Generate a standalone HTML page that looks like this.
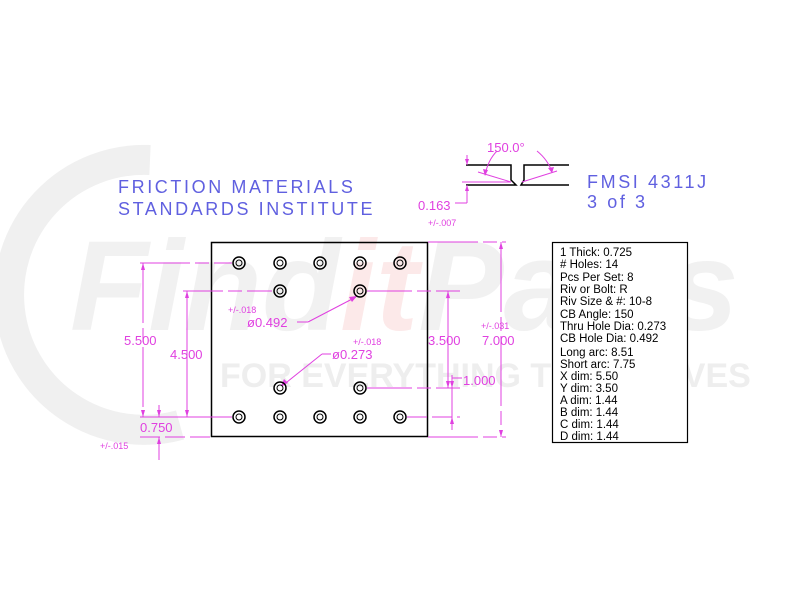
<!DOCTYPE html>
<html><head><meta charset="utf-8"><style>
html,body{margin:0;padding:0;background:#fff;width:800px;height:600px;overflow:hidden}
svg{display:block}
text{font-family:"Liberation Sans",sans-serif}
.m{fill:#e040e0;font-size:13px}
.t{fill:#e040e0;font-size:9px}
.b{fill:#6060e0;font-size:18px;letter-spacing:2.6px}
.k{fill:#000;font-size:11.5px}
</style></head><body>
<svg width="800" height="600" viewBox="0 0 800 600" xmlns="http://www.w3.org/2000/svg">
<g>
<path d="M150,160 A135,135 0 1,0 180,425" fill="none" stroke="#f0f0f0" stroke-width="30"/>
<text x="70" y="330" style="font-family:'Liberation Sans',sans-serif;font-weight:bold;font-style:italic;font-size:128px;fill:#f1f1f1">Find<tspan style="fill:#fce9e9">it</tspan>Parts</text>
<text x="220" y="387" style="font-family:'Liberation Sans',sans-serif;font-weight:bold;font-size:34px;fill:#eeeeee">FOR EVERYTHING THAT MOVES</text>
</g>
<text class="b" x="118" y="193">FRICTION MATERIALS</text>
<text class="b" x="118" y="215">STANDARDS INSTITUTE</text>
<text class="b" x="587" y="188">FMSI 4311J</text>
<text class="b" x="587" y="208">3 of 3</text>
<g fill="none" stroke="#000" stroke-width="1.5">
<polyline points="466,165 511,165 511,180 516,185 466,185"/>
<polyline points="569,165 524,165 524,180 521,185 569,185"/>
</g>
<g stroke="#e040e0" stroke-width="1" fill="none">
<line x1="478" y1="172" x2="511" y2="182"/>
<line x1="522" y1="182" x2="557" y2="171"/>
<path d="M497,151 Q488,160 485,175"/>
<path d="M537,151 Q548,160 552,172"/>
<line x1="462" y1="182" x2="511" y2="182"/>
<line x1="467" y1="155" x2="467" y2="165"/>
<line x1="467" y1="185" x2="467" y2="203"/>
<line x1="455" y1="203" x2="467" y2="203"/>
</g>
<g fill="#e040e0">
<polygon points="485,176 483,169 488,170"/>
<polygon points="552,173 548,168 554,167"/>
<polygon points="467,165 465,159 469,159"/>
<polygon points="467,185 465,191 469,191"/>
</g>
<text class="m" x="487" y="152">150.0°</text>
<text class="m" x="418" y="210">0.163</text>
<text class="t" x="428" y="226">+/-.007</text>
<rect x="211.5" y="242.5" width="216" height="194" fill="none" stroke="#000" stroke-width="1.5"/>
<g stroke="#e040e0" stroke-width="1" fill="none">
<line x1="140" y1="263" x2="232" y2="263" stroke-dasharray="50 5 14 5"/>
<line x1="183" y1="291" x2="272" y2="291" stroke-dasharray="40 5 14 5"/>
<line x1="140" y1="417" x2="232" y2="417"/>
<line x1="140" y1="437" x2="211" y2="437" stroke-dasharray="20 5"/>
<line x1="143" y1="263" x2="143" y2="417" stroke-dasharray="60 5 14 5"/>
<line x1="159" y1="405" x2="159" y2="417"/>
<line x1="159" y1="437" x2="159" y2="460"/>
<line x1="187" y1="291" x2="187" y2="417"/>
<line x1="428" y1="242" x2="506" y2="242" stroke-dasharray="50 5 14 5"/>
<line x1="428" y1="437" x2="506" y2="437" stroke-dasharray="50 5 14 5"/>
<line x1="501" y1="242" x2="501" y2="437" stroke-dasharray="70 5 14 5"/>
<line x1="367" y1="291" x2="460" y2="291" stroke-dasharray="45 5 14 5"/>
<line x1="367" y1="388" x2="460" y2="388" stroke-dasharray="45 5 14 5"/>
<line x1="407" y1="417" x2="460" y2="417" stroke-dasharray="20 5"/>
<line x1="448" y1="291" x2="448" y2="388"/>
<line x1="452" y1="375" x2="452" y2="430"/>
<line x1="452" y1="378" x2="462" y2="378"/>
<line x1="297" y1="322" x2="308" y2="322"/>
<line x1="308" y1="322" x2="356" y2="297"/>
<line x1="331" y1="354" x2="322" y2="354"/>
<line x1="322" y1="354" x2="282" y2="386"/>
</g>
<g fill="#e040e0">
<polygon points="143,263 141,270 145,270"/>
<polygon points="143,417 141,410 145,410"/>
<polygon points="159,417 157,410 161,410"/>
<polygon points="159,437 157,444 161,444"/>
<polygon points="187,291 185,298 189,298"/>
<polygon points="187,417 185,410 189,410"/>
<polygon points="501,242 499,249 503,249"/>
<polygon points="501,437 499,430 503,430"/>
<polygon points="448,291 446,298 450,298"/>
<polygon points="448,388 446,381 450,381"/>
<polygon points="452,388 450,381 454,381"/>
<polygon points="452,417 450,424 454,424"/>
<polygon points="357,296 349,297 352,302"/>
<polygon points="281,386 284,379 288,383"/>
</g>
<text class="m" x="124" y="345">5.500</text>
<text class="m" x="170" y="359">4.500</text>
<text class="m" x="140" y="432">0.750</text>
<text class="t" x="100" y="449">+/-.015</text>
<text class="m" x="428" y="345">3.500</text>
<text class="m" x="482" y="345">7.000</text>
<text class="t" x="481" y="329">+/-.031</text>
<text class="m" x="463" y="385">1.000</text>
<text class="t" x="228" y="313">+/-.018</text>
<text class="m" x="247" y="327">ø0.492</text>
<text class="t" x="353" y="345">+/-.018</text>
<text class="m" x="332" y="359">ø0.273</text>
<g fill="none" stroke="#000">
<g stroke-width="1.5">
<circle cx="239" cy="263" r="6"/><circle cx="280" cy="263" r="6"/><circle cx="320" cy="263" r="6"/><circle cx="360" cy="263" r="6"/><circle cx="400" cy="263" r="6"/>
<circle cx="280" cy="291" r="6"/><circle cx="360" cy="291" r="6"/>
<circle cx="280" cy="388" r="6"/><circle cx="360" cy="388" r="6"/>
<circle cx="239" cy="417" r="6"/><circle cx="280" cy="417" r="6"/><circle cx="320" cy="417" r="6"/><circle cx="360" cy="417" r="6"/><circle cx="400" cy="417" r="6"/>
</g>
<g stroke-width="1">
<circle cx="239" cy="263" r="3"/><circle cx="280" cy="263" r="3"/><circle cx="320" cy="263" r="3"/><circle cx="360" cy="263" r="3"/><circle cx="400" cy="263" r="3"/>
<circle cx="280" cy="291" r="3"/><circle cx="360" cy="291" r="3"/>
<circle cx="280" cy="388" r="3"/><circle cx="360" cy="388" r="3"/>
<circle cx="239" cy="417" r="3"/><circle cx="280" cy="417" r="3"/><circle cx="320" cy="417" r="3"/><circle cx="360" cy="417" r="3"/><circle cx="400" cy="417" r="3"/>
</g>
</g>
<rect x="552.5" y="242.5" width="135" height="200" fill="#fff" stroke="#000" stroke-width="1.2"/>
<text class="k" x="560" y="256">1 Thick: 0.725</text>
<text class="k" x="560" y="268">#  Holes: 14</text>
<text class="k" x="560" y="281">Pcs Per Set: 8</text>
<text class="k" x="560" y="293">Riv or Bolt: R</text>
<text class="k" x="560" y="305">Riv Size &amp; #: 10-8</text>
<text class="k" x="560" y="318">CB Angle: 150</text>
<text class="k" x="560" y="330">Thru Hole Dia: 0.273</text>
<text class="k" x="560" y="342">CB Hole Dia: 0.492</text>
<text class="k" x="560" y="356">Long arc: 8.51</text>
<text class="k" x="560" y="368">Short arc: 7.75</text>
<text class="k" x="560" y="380">X dim: 5.50</text>
<text class="k" x="560" y="392">Y dim: 3.50</text>
<text class="k" x="560" y="404">A dim: 1.44</text>
<text class="k" x="560" y="416">B dim: 1.44</text>
<text class="k" x="560" y="428">C dim: 1.44</text>
<text class="k" x="560" y="440">D dim: 1.44</text>
</svg>
</body></html>
